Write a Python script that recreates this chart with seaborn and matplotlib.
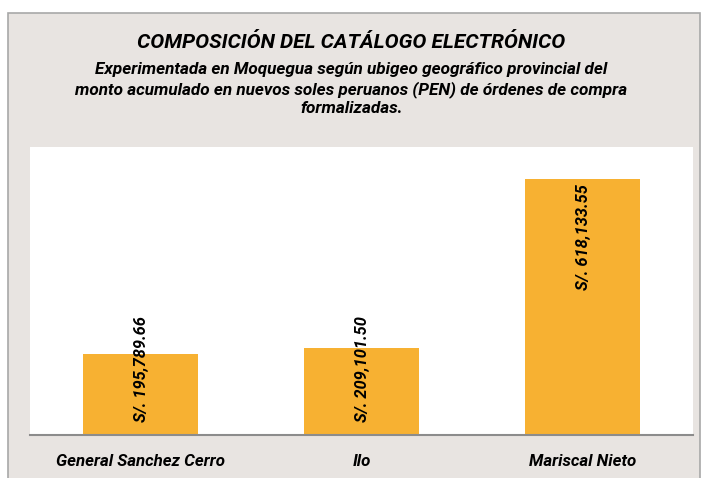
import matplotlib
matplotlib.use("Agg")
import matplotlib.pyplot as plt
import seaborn as sns
import pandas as pd
from matplotlib.patches import Rectangle

categories = ["General Sanchez Cerro", "Ilo", "Mariscal Nieto"]
values = [195789.66, 209101.50, 618133.55]
labels = ["S/. 195,789.66", "S/. 209,101.50", "S/. 618,133.55"]

title = "COMPOSICIÓN DEL CATÁLOGO ELECTRÓNICO"
subtitle = ("Experimentada en Moquegua según ubigeo geográfico provincial del\n"
            "monto acumulado en nuevos soles peruanos (PEN) de órdenes de compra\n"
            "formalizadas.")

sns.set_style("white")
plt.rcParams['font.family'] = ['Roboto', 'DejaVu Sans']

txt = dict(fontweight="bold", style="italic", color="black")

W, H = 703, 478
fig = plt.figure(figsize=(W / 100, H / 100), dpi=100)
fig.patch.set_facecolor("white")
fig.patches.append(Rectangle((8 / W, -0.01), (700 - 8) / W, (H - 13) / H + 0.01,
                             transform=fig.transFigure, facecolor="#E8E4E1",
                             edgecolor="#A8A8A8", linewidth=1.2, zorder=-5))

ax = fig.add_axes([30 / W, (H - 435) / H, (693 - 30) / W, (435 - 147) / H])
ax.set_zorder(2)
ax.set_facecolor("white")

df = pd.DataFrame({"cat": categories, "val": values})
sns.barplot(data=df, x="cat", y="val", color="#F7B132", saturation=1,
            width=0.52, linewidth=0, ax=ax)
ax.set_xlim(-0.5, 2.5)
ax.set_ylim(0, 695000)
ax.set_yticks([])
ax.set_xlabel("")
ax.set_ylabel("")
for s in ["top", "right", "left"]:
    ax.spines[s].set_visible(False)
ax.spines["bottom"].set_color("#8C8C8C")
ax.spines["bottom"].set_linewidth(1.5)
ax.set_xticks(range(len(categories)))
ax.set_xticklabels(categories, fontsize=12.2, **txt)
ax.tick_params(axis="x", which="major", length=0, pad=14)
ax.set_xticks([-0.5, 0.5, 1.5, 2.5], minor=True)
ax.tick_params(axis="x", which="minor", length=6, width=1.2, color="#8C8C8C",
               direction="out")

ypp = 695000 / 288.0
label_len = 106 * ypp
for i, (v, lab) in enumerate(zip(values, labels)):
    top = v - 5 * ypp
    if top - label_len < 13 * ypp:
        ax.text(i, 13 * ypp, lab, rotation=90, ha="center", va="bottom",
                fontsize=11.8, **txt)
    else:
        ax.text(i, top, lab, rotation=90, ha="center", va="top",
                fontsize=11.8, **txt)

fig.text(0.5, 1 - 42 / H, title, ha="center", va="center", fontsize=15, **txt)
fig.text(0.5, 1 - 89 / H, subtitle, ha="center", va="center", fontsize=12.3,
         linespacing=1.27, **txt)

fig.savefig("out.png", dpi=100, facecolor=fig.get_facecolor())
